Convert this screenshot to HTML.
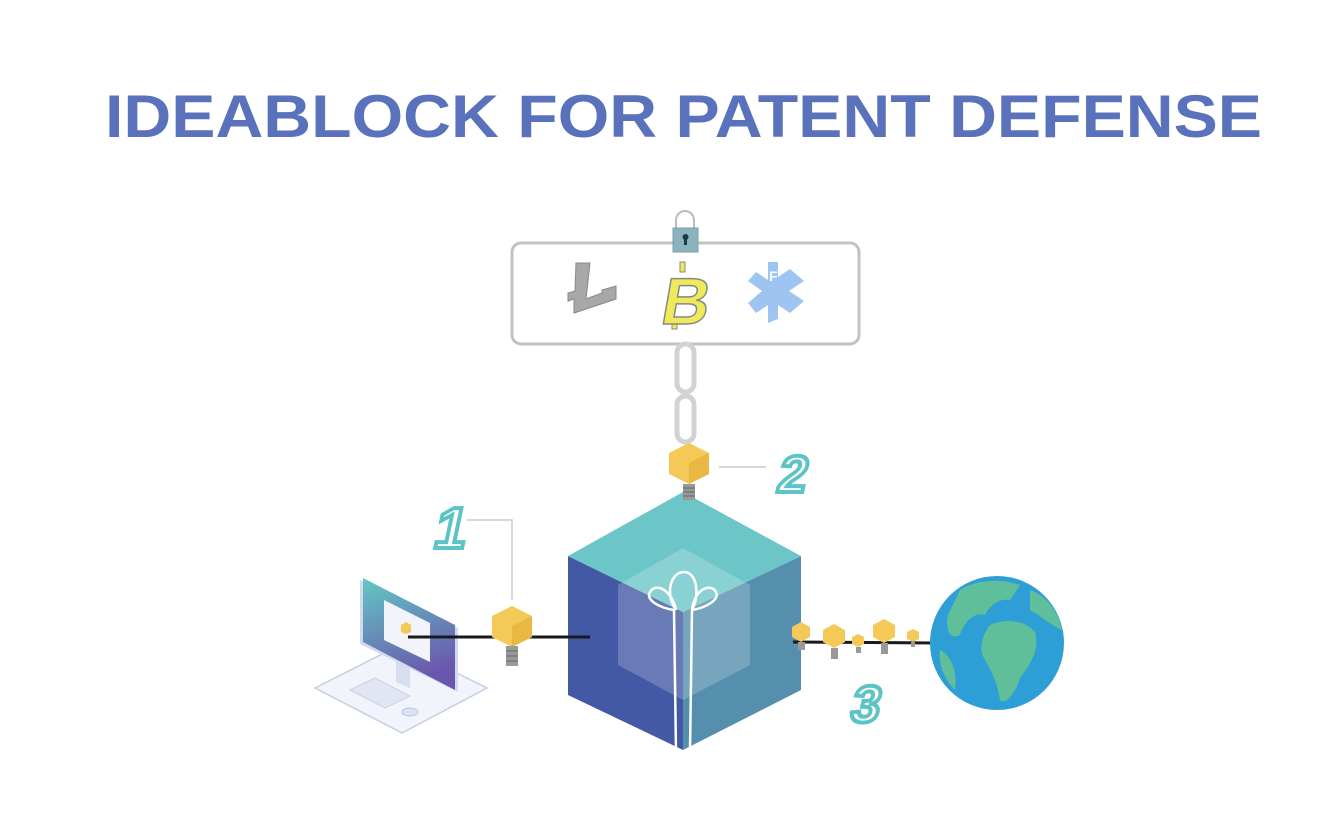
<!DOCTYPE html>
<html><head><meta charset="utf-8"><style>body{margin:0;background:#fff}svg{display:block}</style></head>
<body>
<svg width="1344" height="829" viewBox="0 0 1344 829" xmlns="http://www.w3.org/2000/svg">
<defs>
<linearGradient id="scr" x1="0" y1="0" x2="0.3" y2="1"><stop offset="0" stop-color="#62c8c4"/><stop offset="1" stop-color="#6a56ad"/></linearGradient>
</defs>
<text x="105" y="137" font-family="Liberation Sans, sans-serif" font-weight="bold" font-size="60" fill="#5a72bb" textLength="1157" lengthAdjust="spacingAndGlyphs">IDEABLOCK FOR PATENT DEFENSE</text>

<!-- coin box -->
<rect x="512" y="243" width="347" height="101" rx="9" fill="#fff" stroke="#c2c2c2" stroke-width="3"/>
<path d="M676 232 v-12 a9 9 0 0 1 18 0 v12" fill="none" stroke="#bbb" stroke-width="2"/>
<rect x="673" y="228" width="25" height="24" fill="#8bb3bf" stroke="#7aa0ab"/>
<circle cx="685.5" cy="237" r="3" fill="#1d3a45"/><rect x="684" y="238" width="3" height="7" fill="#1d3a45"/>
<!-- litecoin -->
<path d="M576 263 h14 l-4 36 l16 -6 v-3 l14 -4 v13 l-42 14 v-14 l-6 2 v-8 l7 -2z" fill="#a8a8a8" stroke="#888" stroke-width="1"/>
<!-- bitcoin -->
<g transform="translate(0,0)">
<rect x="680" y="262" width="5" height="10" fill="#eeea5a" stroke="#888"/>
<rect x="672" y="318" width="5" height="11" fill="#eeea5a" stroke="#888"/>
<text x="660" y="324" font-family="Liberation Sans, sans-serif" font-weight="bold" font-size="66" fill="#eeea5a" stroke="#888" stroke-width="1.5" transform="skewX(-10) translate(56,0)">B</text>
</g>
<!-- star -->
<path d="M768 262 h10 v15 l12 -8 l14 12 l-15 10 l15 10 l-14 12 l-12 -8 v14 l-10 4 v-18 l-12 8 l-8 -10 l14 -12 l-14 -10 l8 -9 l12 8z" fill="#9ec4f2"/>
<text x="769" y="281" font-family="Liberation Sans, sans-serif" font-weight="bold" font-size="14" fill="#fff">F</text>

<!-- chain -->
<rect x="677" y="344" width="17" height="48" rx="8.5" fill="none" stroke="#d2d2d2" stroke-width="5"/>
<rect x="677" y="396" width="17" height="46" rx="8.5" fill="none" stroke="#d2d2d2" stroke-width="5"/>

<!-- cube -->
<polygon points="568,556 683,612 683,750 568,695" fill="#4459a6"/>
<polygon points="683,612 801,556 801,690 683,750" fill="#568fae"/>
<polygon points="683,492 801,556 683,612 568,556" fill="#6cc6c8"/>
<polygon points="618,585 683,548 750,585 750,665 683,700 618,665" fill="#ffffff" fill-opacity="0.2"/>
<g fill="none" stroke="#fff" stroke-width="2.5">
<path d="M676 752 L674 610 C660 608 645 600 650 592 C656 582 672 590 676 610"/>
<path d="M690 752 L692 610 C705 608 720 600 716 592 C710 582 694 590 692 610"/>
<path d="M676 610 C665 595 670 572 684 572 C697 572 700 595 692 610"/>
</g>

<!-- top bulb 2 -->
<polygon points="689,443 709,453 709,474 689,484 669,474 669,453" fill="#f5c957"/>
<polygon points="689,463 709,453 709,474 689,484" fill="#e8b843"/>
<rect x="683" y="484" width="12" height="16" fill="#999"/>
<path d="M683 488h12M683 492h12M683 496h12" stroke="#666" stroke-width="1"/>
<line x1="719" y1="467" x2="766" y2="467" stroke="#ccc" stroke-width="1.5"/>
<text x="776" y="492" font-family="Liberation Sans, sans-serif" font-weight="bold" font-size="52" fill="#fff" stroke="#5cc3c6" stroke-width="4" transform="skewX(-12) translate(104,0)">2</text>

<!-- 1 -->
<text x="432" y="548" font-family="Liberation Sans, sans-serif" font-weight="bold" font-size="58" fill="#fff" stroke="#5cc3c6" stroke-width="4" transform="skewX(-12) translate(116,0)">1</text>
<polyline points="467,520 512,520 512,600" fill="none" stroke="#ccc" stroke-width="1.5"/>

<!-- computer -->
<polygon points="315,688 400,645 487,688 402,733" fill="#f2f4fb" stroke="#c7cde6" stroke-width="1.5"/>
<polygon points="396,660 410,666 410,688 396,682" fill="#d6def0"/>
<polygon points="360,580 458,628 458,692 360,644" fill="#cfdaf0"/>
<polygon points="363,578 455,625 455,690 363,642" fill="url(#scr)"/>
<polygon points="384,600 430,623 430,662 384,640" fill="#f3f4fa"/>
<polygon points="350,690 375,678 410,696 385,708" fill="#e2e6f4" stroke="#c9cfe6"/>
<ellipse cx="410" cy="712" rx="8" ry="4" fill="#dde2f2" stroke="#bcc5e0"/>
<polygon points="406,622 411,625 411,632 406,634 401,632 401,625" fill="#f5c957"/>

<line x1="408" y1="637" x2="590" y2="637" stroke="#1a1a1a" stroke-width="3"/>
<polygon points="512,606 532,616 532,637 512,647 492,637 492,616" fill="#f5c957"/>
<polygon points="512,626 532,616 532,637 512,647" fill="#e8b843"/>
<rect x="506" y="646" width="12" height="20" fill="#999"/>
<path d="M506 651h12M506 656h12M506 661h12" stroke="#666"/>

<!-- right line & bulbs -->
<line x1="793" y1="642" x2="935" y2="643" stroke="#1a1a1a" stroke-width="3"/>
<g fill="#f5c957">
<polygon points="801,622 810,627 810,637 801,642 792,637 792,627"/>
<polygon points="834,624 845,630 845,642 834,648 823,642 823,630"/>
<polygon points="858,634 864,637 864,644 858,647 852,644 852,637"/>
<polygon points="884,619 895,625 895,637 884,643 873,637 873,625"/>
<polygon points="913,629 919,632 919,639 913,642 907,639 907,632"/>
</g>
<g fill="#999"><rect x="798" y="642" width="7" height="8"/><rect x="831" y="648" width="7" height="11"/><rect x="856" y="647" width="5" height="6"/><rect x="881" y="643" width="7" height="11"/><rect x="911" y="642" width="4" height="5"/></g>
<text x="852" y="722" font-family="Liberation Sans, sans-serif" font-weight="bold" font-size="52" fill="#fff" stroke="#5cc3c6" stroke-width="4" transform="skewX(-12) translate(150,0)">3</text>

<!-- globe -->
<circle cx="997" cy="643" r="67" fill="#2e9fd6"/>
<path d="M960 590 C975 580 1000 578 1020 585 L1010 600 C1000 598 990 605 985 615 C975 612 965 620 960 635 C950 640 945 630 948 615 Z" fill="#5fbf9a"/>
<path d="M990 625 C1005 618 1025 620 1035 632 C1040 650 1030 665 1020 678 C1015 695 1005 705 1000 700 C998 685 992 672 985 660 C978 650 982 635 990 625 Z" fill="#5fbf9a"/>
<path d="M1030 590 C1045 595 1058 610 1062 630 C1050 625 1040 615 1030 610 Z" fill="#5fbf9a"/>
<path d="M940 650 C950 655 958 670 955 690 C945 680 938 665 940 650Z" fill="#5fbf9a"/>
</svg>
</body></html>
